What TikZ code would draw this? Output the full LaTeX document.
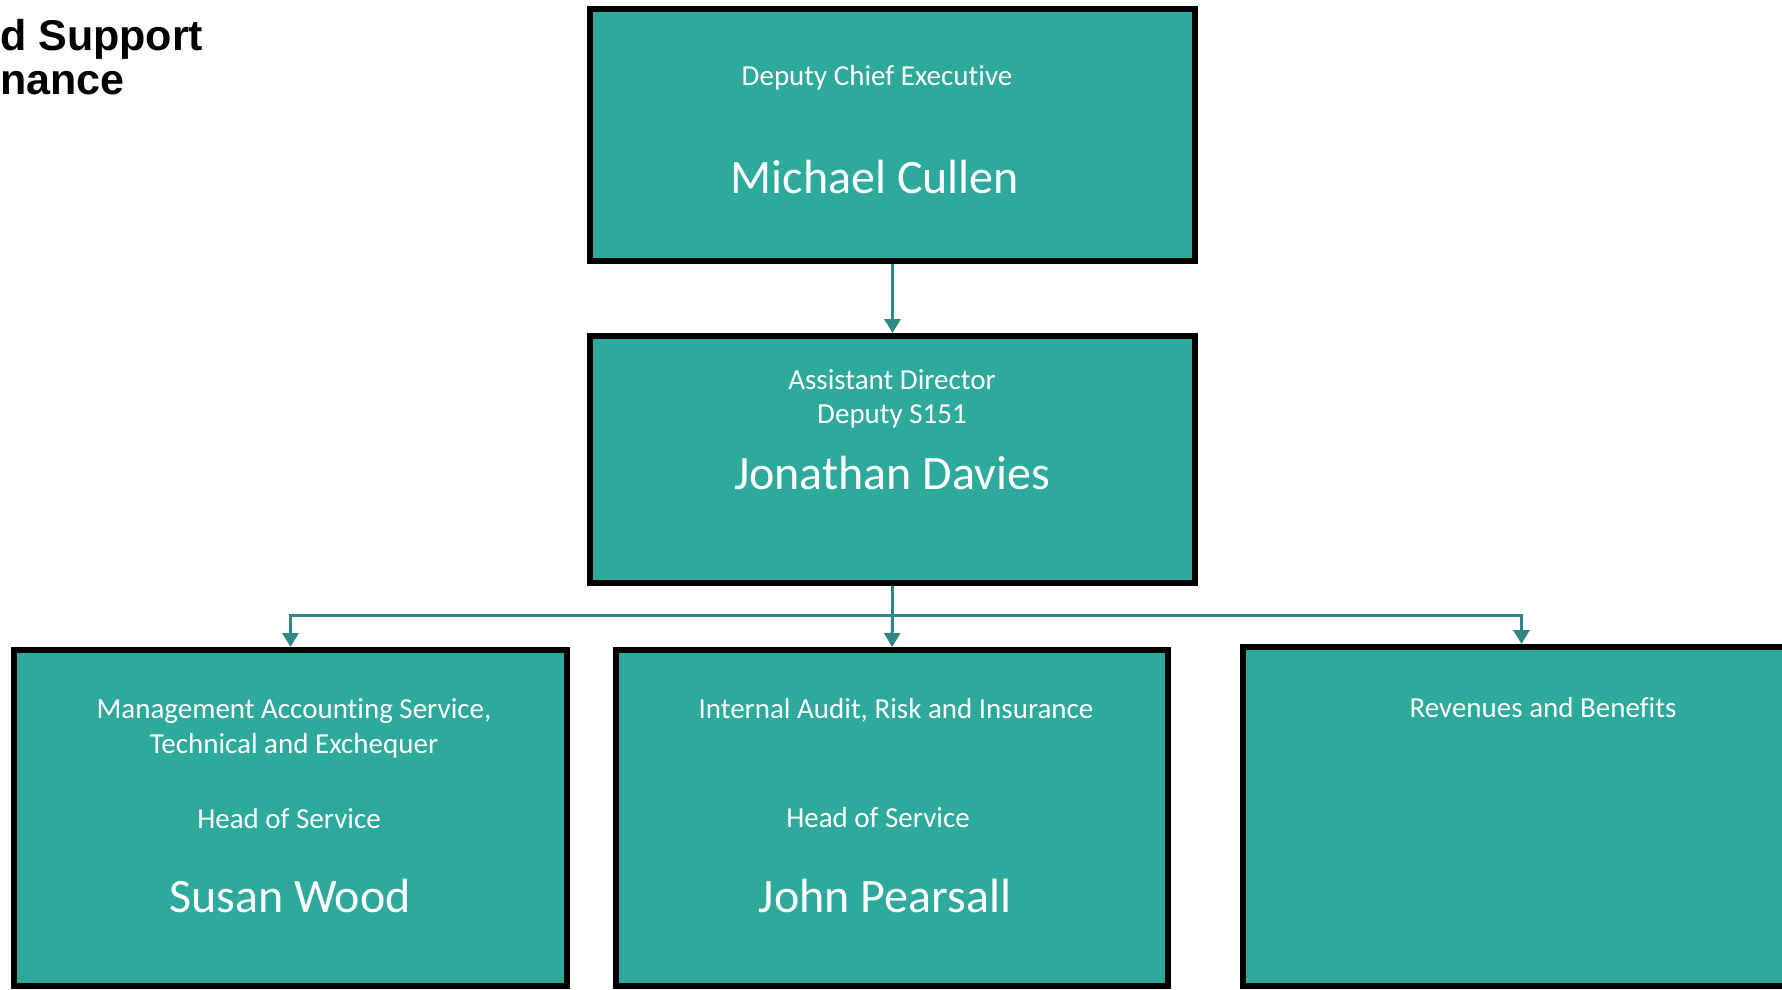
\documentclass[tikz,border=0pt]{standalone}
\usepackage{fontspec}
\setmainfont{Carlito}[Ligatures=NoCommon]
\newfontfamily\titlefont{Liberation Sans}
\usetikzlibrary{arrows.meta}
\definecolor{boxteal}{HTML}{2DAA9C}
\definecolor{linkteal}{HTML}{2F8884}

\begin{document}
\begin{tikzpicture}[x=1pt,y=-1pt,
  unit/.style={draw=black,line width=6pt,fill=boxteal,inner sep=0pt},
  role/.style={text=white,font=\fontsize{29}{35}\selectfont,anchor=base,inner sep=0pt},
  person/.style={text=white,font=\fontsize{48}{58}\selectfont,anchor=base,inner sep=0pt},
  heading/.style={font=\titlefont\bfseries\fontsize{43}{45}\selectfont,anchor=base west,inner sep=0pt},
  link/.style={draw=linkteal,line width=3pt},
  linkarrow/.style={link,-{Triangle[width=16pt,length=14pt]}}]
  \useasboundingbox (0,0) rectangle (1782,989);
  % page heading, cut off at the left
  \node[heading] (hdr1) at (0,50) {d Support};
  \node[heading] (hdr2) at (0,94) {nance};
  % boxes
  \node[unit,minimum width=605pt,minimum height=252pt] (dce) at (892.5,135) {};
  \node[unit,minimum width=605pt,minimum height=247pt] (ad) at (892.5,459.5) {};
  \node[unit,minimum width=553pt,minimum height=336pt] (mat) at (290.5,818) {};
  \node[unit,minimum width=552pt,minimum height=336pt] (iar) at (892,818) {};
  \node[unit,minimum width=557pt,minimum height=339pt] (rab) at (1521.5,816.5) {};
  % texts
  \node[role] (dcetitle) at (877,85) {Deputy Chief Executive};
  \node[person] (dcename) at (875,193) {Michael Cullen};
  \node[role] (adtitle1) at (892,389) {Assistant Director};
  \node[role] (adtitle2) at (892,423) {Deputy S151};
  \node[person] (adname) at (892,489) {Jonathan Davies};
  \node[role] (matarea1) at (294,718) {Management Accounting Service,};
  \node[role] (matarea2) at (294,753) {Technical and Exchequer};
  \node[role] (mattitle) at (289,828) {Head of Service};
  \node[person] (matname) at (290,912) {Susan Wood};
  \node[role] (iararea) at (896,718) {Internal Audit, Risk and Insurance};
  \node[role] (iartitle) at (878,827) {Head of Service};
  \node[person] (iarname) at (885,912) {John Pearsall};
  \node[role] (rabarea) at (1543,717) {Revenues and Benefits};
  % connectors
  \coordinate (split) at (892.5,615);
  \draw[linkarrow] (dce.south) -- (ad.north);
  \draw[link] (ad.south) -- (split);
  \draw[linkarrow] (split) -| (mat.north);
  \draw[linkarrow] (split) -- (iar.north);
  \draw[linkarrow] (split) -| (rab.north);
\end{tikzpicture}
\end{document}
